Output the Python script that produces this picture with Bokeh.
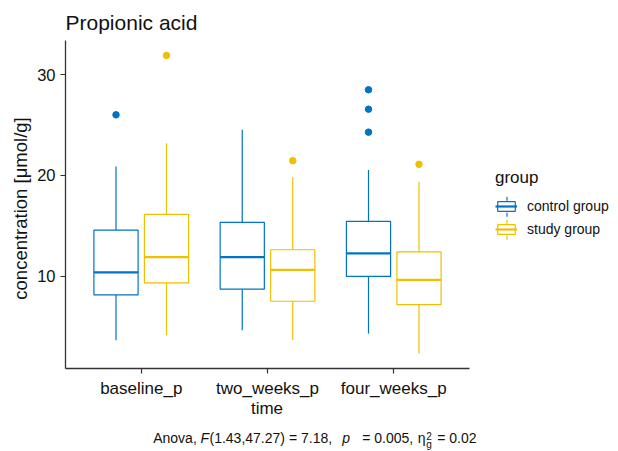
import numpy as np
from bokeh.plotting import figure
from bokeh.models import (Range1d, FixedTicker, Label, Legend, LegendItem,
                          ColumnDataSource, Arrow)
from bokeh.embed import file_html
from bokeh.resources import INLINE

# ---------------- data ----------------
times = ["baseline_p", "two_weeks_p", "four_weeks_p"]
groups = ["control group", "study group"]
colors = ["#0073C2", "#EFC000"]

ctrl_lower = [3.63, 4.63, 4.30]
ctrl_q1 = [8.14, 8.71, 9.97]
ctrl_median = [10.37, 11.89, 12.26]
ctrl_q3 = [14.58, 15.34, 15.44]
ctrl_upper = [20.88, 24.53, 20.55]
ctrl_out_time = ["baseline_p", "four_weeks_p", "four_weeks_p", "four_weeks_p"]
ctrl_out_value = [26.02, 28.51, 26.58, 24.30]

study_lower = [4.13, 3.63, 2.31]
study_q1 = [9.33, 7.51, 7.18]
study_median = [11.89, 10.63, 9.63]
study_q3 = [16.14, 12.62, 12.42]
study_upper = [23.20, 19.82, 19.38]
study_out_time = ["baseline_p", "two_weeks_p", "four_weeks_p"]
study_out_value = [31.92, 21.47, 21.11]

y_ticks = [10, 20, 30]
title_text = "Propionic acid"
x_title = "time"
y_title = "concentration [\u03bcmol/g]"
legend_title = "group"

# ---------------- layout ----------------
FONT = "Liberation Sans"
TXT = "#111111"
W, H = 618, 451
PL, PR, PT, PB = 65, 469, 40, 368  # panel (data area) edges in page pixels

all_vals = ctrl_lower + ctrl_upper + ctrl_out_value + study_lower + study_upper + study_out_value
vmin, vmax = min(all_vals), max(all_vals)
pad = 0.05 * (vmax - vmin)
y0, y1 = vmin - pad, vmax + pad
x0, x1 = 0.4, len(times) + 0.6

kx = (PR - PL) / (x1 - x0)
ky = (PB - PT) / (y1 - y0)
xr = Range1d(x0 - PL / kx, x1 + (W - PR) / kx)
yr = Range1d(y0 - (H - PB) / ky, y1 + PT / ky)

p = figure(width=W, height=H, output_backend="svg", toolbar_location=None,
           x_range=xr, y_range=yr, title=None,
           min_border_left=0, min_border_right=0, min_border_top=0, min_border_bottom=0)
p.background_fill_color = "white"
p.border_fill_color = "white"
p.outline_line_color = None
p.grid.visible = False

pos = {t: i + 1 for i, t in enumerate(times)}
dodge = 0.2
box_w = 0.35

series = [
    (ctrl_lower, ctrl_q1, ctrl_median, ctrl_q3, ctrl_upper, ctrl_out_time, ctrl_out_value, -dodge),
    (study_lower, study_q1, study_median, study_q3, study_upper, study_out_time, study_out_value, dodge),
]

legend_items = []
for gi, (lo, q1, med, q3, up, ot, ov, off) in enumerate(series):
    col = colors[gi]
    x = [pos[t] + off for t in times]
    src = ColumnDataSource(dict(x=x, lo=lo, q1=q1, med=med, q3=q3, up=up,
                                xl=[v - box_w / 2 for v in x], xr=[v + box_w / 2 for v in x]))
    p.segment(x0="x", x1="x", y0="q3", y1="up", source=src, line_color=col, line_width=1.2)
    p.segment(x0="x", x1="x", y0="lo", y1="q1", source=src, line_color=col, line_width=1.2)
    box = p.vbar(x="x", width=box_w, bottom="q1", top="q3", source=src,
                 fill_color="white", line_color=col, line_width=1.2)
    mline = p.segment(x0="xl", x1="xr", y0="med", y1="med", source=src,
                      line_color=col, line_width=2.2)
    osrc = ColumnDataSource(dict(x=[pos[t] + off for t in ot], y=ov))
    p.scatter(x="x", y="y", source=osrc, size=6.5, fill_color=col, line_color=col)
    legend_items.append(LegendItem(label=groups[gi], renderers=[box, mline]))

# axes, pinned to the edges of the data area
for ax in (p.xaxis[0], p.yaxis[0]):
    ax.axis_line_color = "#333333"
    ax.axis_line_width = 1.3
    ax.major_tick_line_color = "#333333"
    ax.major_tick_line_width = 1.2
    ax.major_tick_in = 0
    ax.major_tick_out = 5
    ax.minor_tick_line_color = None
    ax.major_label_text_font = FONT
    ax.major_label_text_font_size = "16.5px"
    ax.major_label_text_color = TXT
    ax.major_label_standoff = 5
p.xaxis.fixed_location = y0
p.xaxis.bounds = (x0, x1)
p.xaxis.ticker = FixedTicker(ticks=[pos[t] for t in times])
p.xaxis.major_label_overrides = {pos[t]: t for t in times}
p.xaxis.major_label_text_font_size = "17px"
p.yaxis.fixed_location = x0
p.yaxis.bounds = (y0, y1)
p.yaxis.ticker = FixedTicker(ticks=y_ticks)


def sx(px):
    return px


def sy(py):
    return H - py


# legend
legend = Legend(items=legend_items, title=legend_title, location=(sx(495), sy(239.5)),
                title_text_font=FONT, title_text_font_size="17px", title_text_color=TXT,
                title_text_font_style="normal", title_standoff=8,
                label_text_font=FONT, label_text_font_size="14px", label_text_color=TXT,
                glyph_width=22, glyph_height=12, label_height=21, label_standoff=10,
                padding=0, spacing=2, margin=0,
                border_line_color=None, background_fill_alpha=0)
p.add_layout(legend)

# whisker stubs of the legend keys
for gi, cy in enumerate([206.2, 229.2]):
    for a, b in [(cy - 10, cy - 6), (cy + 6, cy + 10)]:
        p.add_layout(Arrow(start=None, end=None, x_start=sx(506.5), x_end=sx(506.5),
                           y_start=sy(a), y_end=sy(b), start_units="screen", end_units="screen",
                           line_color=colors[gi], line_width=1.2))


def lab(text, px, py, size, style="normal", align="left", angle=0.0):
    p.add_layout(Label(x=sx(px), y=sy(py), x_units="screen", y_units="screen", text=text,
                       text_font=FONT, text_font_size=size, text_font_style=style,
                       text_align=align, text_baseline="alphabetic", angle=angle,
                       text_color=TXT))


lab(title_text, 65, 22.0, "21px")
lab(x_title, 266.5, 408.0, "17px", align="center")
lab(y_title, 19.5, 208, "18.5px", align="center", angle=np.pi / 2)

cap_y = 437.3
caption = [
    ("Anova, ", 152.7, cap_y, "14px", "normal"),
    ("F", 200.0, cap_y, "14px", "italic"),
    ("(1.43,47.27) = 7.18, ", 209.0, cap_y, "14px", "normal"),
    ("p", 341.7, cap_y, "14px", "italic"),
    ("= 0.005,", 361.7, cap_y, "14px", "normal"),
    ("\u03b7", 417.3, cap_y, "14px", "normal"),
    ("2", 425.7, 435.7, "10px", "normal"),
    ("g", 425.7, 443.8, "10px", "normal"),
    ("= 0.02", 436.7, cap_y, "14px", "normal"),
]
for t, px, py, s, st in caption:
    lab(t, px, py, s, style=st)

open("out.html", "w").write(file_html(p, INLINE))
